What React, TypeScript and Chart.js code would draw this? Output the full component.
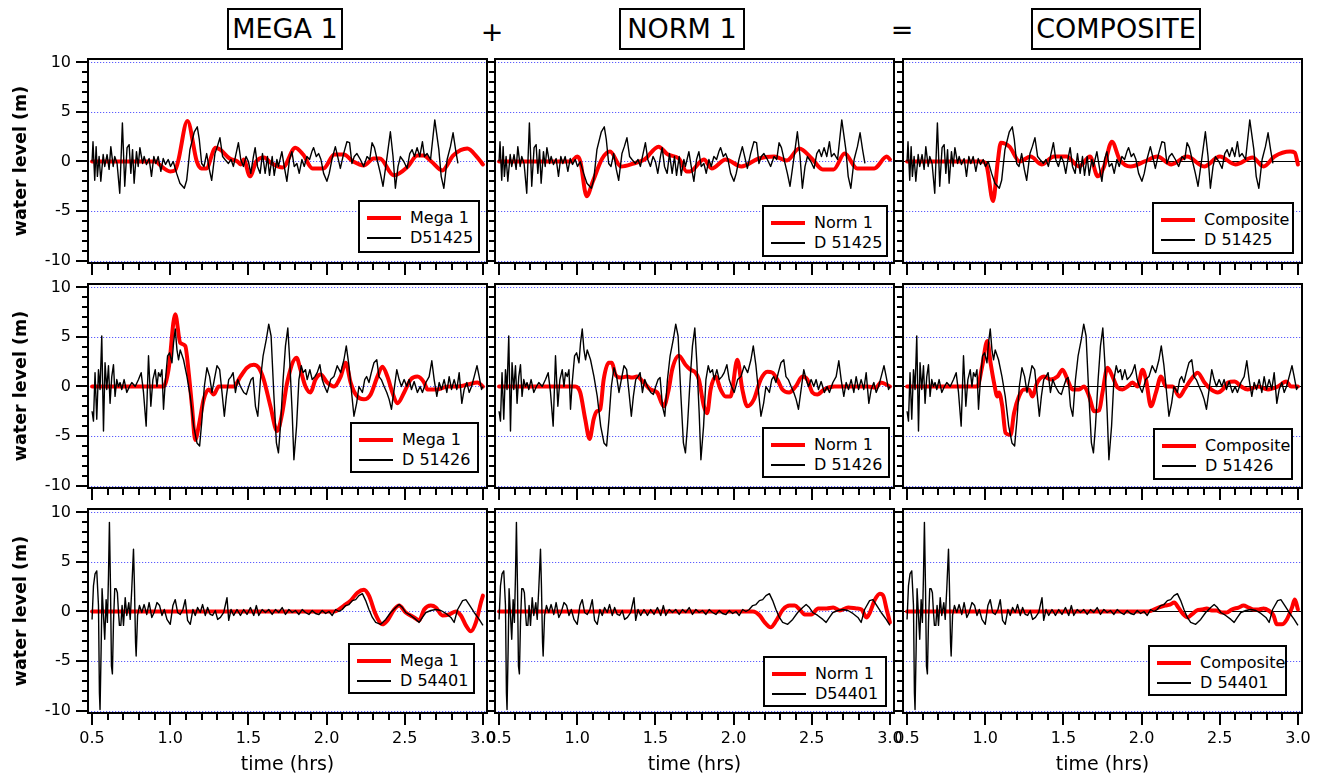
import React, { useEffect, useRef } from "react";
import { Chart, registerables } from "chart.js";

Chart.register(...registerables);
Chart.defaults.color = "#000";

// ---------------- DATA ----------------
const X_TICKS = [0.5, 1.0, 1.5, 2.0, 2.5, 3.0];
const Y_TICKS = [-10, -5, 0, 5, 10];
const COLUMN_TITLES = ["MEGA 1", "NORM 1", "COMPOSITE"];
const RED_LABELS = ["Mega 1", "Norm 1", "Composite"];
const BLACK_LABELS = [
  ["D51425", "D 51425", "D 51425"],
  ["D 51426", "D 51426", "D 51426"],
  ["D 54401", "D54401", "D 54401"],
];

// observed gauge records [time (hrs), water level (m)]
const D51425: number[][] = [
  [0.5,0],[0.506,2.0],[0.517,-1.9],[0.526,1.5],[0.534,-1.5],[0.545,0.5],[0.556,-2.0],[0.571,0.7],[0.581,-0.5],[0.596,0.7],
  [0.609,-0.8],[0.62,1.5],[0.635,-0.5],[0.645,0.5],[0.66,-0.2],[0.677,-3.2],[0.694,3.9],[0.709,-2.5],[0.724,1.4],[0.737,1.7],
  [0.748,-1.2],[0.759,1.2],[0.769,-2.2],[0.784,1.0],[0.795,-0.5],[0.806,1.4],[0.823,-0.2],[0.833,0.5],[0.848,-0.3],[0.865,0.3],
  [0.88,-1.5],[0.895,0.5],[0.908,-0.2],[0.923,0.5],[0.94,-1.0],[0.955,0.3],[0.97,-0.3],[0.987,0.2],[1.002,-0.5],[1.019,0],
  [1.041,-1.2],[1.062,-2.2],[1.09,-2.7],[1.105,-1.9],[1.126,1.2],[1.154,3.0],[1.173,3.5],[1.186,2.2],[1.201,-0.2],[1.216,-0.5],
  [1.233,0.8],[1.25,-0.8],[1.265,-1.9],[1.286,0.8],[1.301,1.5],[1.318,2.4],[1.335,0.5],[1.35,0.2],[1.372,-0.2],[1.389,0.2],
  [1.404,-0.5],[1.417,0.5],[1.436,1.9],[1.451,0.2],[1.468,-0.5],[1.485,0.5],[1.5,0],[1.515,-1.2],[1.532,0.5],[1.543,1.4],
  [1.558,-0.5],[1.575,-1.2],[1.59,0.8],[1.607,-1.2],[1.622,0.5],[1.635,-1.4],[1.652,0.5],[1.665,-1.4],[1.682,0.2],[1.692,-0.5],
  [1.714,1.0],[1.729,-0.5],[1.746,-2.0],[1.763,0.2],[1.778,1.0],[1.793,-0.5],[1.81,-0.2],[1.825,-1.2],[1.842,0.2],[1.857,-0.5],
  [1.874,0.5],[1.891,0.2],[1.906,1.0],[1.917,1.4],[1.934,0.5],[1.949,0.8],[1.964,0.2],[1.981,-1.2],[2.002,-2.0],[2.017,-1.2],
  [2.034,0.2],[2.056,1.5],[2.071,0.5],[2.088,-0.7],[2.109,0.8],[2.13,2.0],[2.147,1.9],[2.162,-0.2],[2.177,0.5],[2.194,0.8],
  [2.216,0.2],[2.237,-0.5],[2.259,0.5],[2.276,0.2],[2.291,1.9],[2.306,1.4],[2.323,0.2],[2.344,-1.2],[2.361,-2.5],[2.387,0.5],
  [2.408,3.0],[2.425,0.5],[2.44,-2.7],[2.457,-0.5],[2.472,0.5],[2.494,0],[2.515,-0.7],[2.532,0.8],[2.547,1.2],[2.562,0.5],
  [2.579,1.4],[2.596,0.5],[2.613,2.0],[2.626,0.5],[2.643,0.8],[2.665,0.2],[2.692,4.2],[2.718,1.2],[2.733,-1.5],[2.75,-2.7],
  [2.771,0.2],[2.792,1.5],[2.809,2.9],[2.825,1.2],[2.84,-0.2],
];

const D51426: number[][] = [
  [0.5,-2.5],[0.509,-3.5],[0.519,1.4],[0.53,-3.3],[0.541,1.7],[0.551,-0.3],[0.562,5.1],[0.573,-4.5],[0.583,2.4],[0.594,-0.3],
  [0.605,2.1],[0.615,-1.7],[0.626,1.0],[0.637,2.2],[0.647,-1.0],[0.658,0.7],[0.669,0],[0.679,0.4],[0.69,-0.3],[0.705,0.7],
  [0.722,-0.6],[0.739,0],[0.754,0.4],[0.776,0],[0.797,0.7],[0.814,1.4],[0.829,-0.6],[0.846,-4.0],[0.861,3.1],[0.876,-2.0],
  [0.889,0.7],[0.904,1.7],[0.915,0],[0.925,1.4],[0.936,1.0],[0.947,1.7],[0.957,-2.3],[0.968,0.4],[0.983,3.1],[0.996,3.4],
  [1.011,2.4],[1.021,4.4],[1.032,5.8],[1.043,3.7],[1.053,2.7],[1.064,3.7],[1.085,2.7],[1.107,1.0],[1.128,-1.0],[1.15,-4.0],
  [1.171,-5.7],[1.188,-6.0],[1.203,-3.3],[1.218,0],[1.235,1.9],[1.252,1.0],[1.267,-0.6],[1.282,0.7],[1.299,2.1],[1.316,1.7],
  [1.331,-0.6],[1.346,-3.0],[1.359,-1.0],[1.374,0.7],[1.389,1.0],[1.402,1.4],[1.417,-0.6],[1.432,0.7],[1.449,0],[1.47,-0.6],
  [1.487,-0.8],[1.502,0],[1.517,0.7],[1.53,0.9],[1.545,-2.0],[1.56,-3.0],[1.577,0.7],[1.594,3.1],[1.615,4.8],[1.63,6.3],
  [1.645,5.1],[1.662,-0.6],[1.679,-5.7],[1.692,-6.7],[1.705,-4.0],[1.722,0.7],[1.737,4.1],[1.752,5.9],[1.765,2.4],[1.78,-2.7],
  [1.791,-7.4],[1.808,-4.0],[1.823,0.7],[1.838,2.1],[1.85,1.4],[1.865,1.7],[1.876,0.7],[1.893,1.7],[1.908,0.7],[1.925,1.0],
  [1.94,1.4],[1.957,2.2],[1.972,0.7],[1.987,0],[2.004,-0.6],[2.026,0.7],[2.047,1.0],[2.068,2.1],[2.09,1.4],[2.111,2.7],
  [2.126,4.1],[2.143,2.1],[2.158,-0.3],[2.175,-3.0],[2.192,-1.7],[2.207,0],[2.229,-0.6],[2.244,0.7],[2.256,1.0],[2.271,0.4],
  [2.286,1.4],[2.303,2.4],[2.321,2.7],[2.335,1.0],[2.35,0.7],[2.368,0],[2.385,-0.6],[2.4,-1.3],[2.415,-2.3],[2.432,-0.3],
  [2.449,1.7],[2.464,0.7],[2.479,0],[2.496,0.7],[2.513,0],[2.528,0.7],[2.543,-0.3],[2.56,0.5],[2.581,-0.6],[2.598,0],
  [2.613,-0.6],[2.635,0.4],[2.656,1.0],[2.673,2.6],[2.688,0.7],[2.705,-1.0],[2.72,0.4],[2.735,-0.3],[2.752,0.7],[2.769,-0.6],
  [2.784,1.0],[2.799,-0.3],[2.816,0.7],[2.833,-0.3],[2.848,1.4],[2.865,-1.7],[2.88,-0.3],[2.897,0.4],[2.912,-0.6],[2.927,0],
  [2.944,1.0],[2.962,2.1],[2.976,1.0],[2.991,-0.3],[3.0,0],
];

const D54401: number[][] = [
  [0.5,-0.8],[0.509,2.6],[0.519,3.8],[0.53,4.1],[0.541,0.6],[0.547,-8.2],[0.551,-9.9],[0.558,-3.8],[0.564,2.3],[0.573,-0.4],
  [0.581,-2.8],[0.59,1.2],[0.598,-1.1],[0.605,3.6],[0.611,9.0],[0.618,2.3],[0.624,-5.5],[0.63,-6.3],[0.637,-1.1],[0.645,2.3],
  [0.654,2.3],[0.662,1.9],[0.669,-0.1],[0.675,-1.4],[0.684,-1.4],[0.692,0.6],[0.701,-1.4],[0.712,1.4],[0.722,-0.4],[0.735,0.9],
  [0.744,-0.8],[0.754,2.3],[0.765,6.3],[0.771,2.6],[0.778,-3.1],[0.782,-4.5],[0.791,-0.4],[0.803,0.6],[0.818,-0.1],[0.833,0.7],
  [0.85,-0.3],[0.865,0.9],[0.882,-0.6],[0.897,-0.1],[0.915,0.9],[0.932,0.6],[0.947,-0.4],[0.962,0.2],[0.979,-0.8],[1.0,-1.3],
  [1.017,0.6],[1.032,1.2],[1.047,-0.1],[1.064,-0.3],[1.081,0.2],[1.096,1.2],[1.111,-0.9],[1.128,-1.3],[1.145,0.2],[1.16,-0.4],
  [1.175,0.4],[1.192,-0.1],[1.207,0.7],[1.224,-0.4],[1.239,0.4],[1.256,-0.3],[1.271,-0.4],[1.288,0.1],[1.303,-0.8],[1.321,-0.6],
  [1.342,-0.1],[1.363,1.4],[1.374,-0.9],[1.389,0.2],[1.406,-0.4],[1.427,0.2],[1.449,-0.4],[1.47,0.2],[1.491,-0.3],[1.513,0.4],
  [1.534,-0.4],[1.551,0.6],[1.566,-0.4],[1.588,0.2],[1.609,-0.1],[1.63,0.2],[1.652,-0.3],[1.673,0.2],[1.694,-0.1],[1.716,0.4],
  [1.737,-0.3],[1.759,0.2],[1.78,-0.1],[1.801,0.1],[1.823,-0.3],[1.844,0.2],[1.865,-0.1],[1.887,-0.3],[1.908,0.1],[1.929,-0.2],
  [1.951,-0.3],[1.972,0.1],[1.994,-0.2],[2.015,0],[2.036,-0.4],[2.058,0.2],[2.079,0],[2.1,0.2],[2.122,0.6],[2.143,0.7],
  [2.165,1.1],[2.186,1.2],[2.207,1.6],[2.229,1.8],[2.25,1.1],[2.271,0.2],[2.293,-0.6],[2.314,-1.1],[2.346,-1.3],[2.378,-0.8],
  [2.41,-0.1],[2.442,0.4],[2.464,0.7],[2.485,0.4],[2.506,-0.1],[2.538,-0.4],[2.571,-0.8],[2.592,-1.1],[2.613,-0.6],[2.635,-0.1],
  [2.667,0.1],[2.699,0.2],[2.731,0.1],[2.763,-0.2],[2.795,-0.6],[2.816,-1.1],[2.838,0.2],[2.87,1.1],[2.891,1.2],[2.912,0.7],
  [2.944,-0.1],[2.976,-0.8],[3.0,-1.4],
];

// model results [time (hrs), water level (m)]
const MEGA1_51425: number[][] = [
  [0.5,0],[0.91,0],[0.93,-0.3],[1.0,-1.0],[1.03,-0.9],[1.05,0],[1.11,4.1],[1.17,0],[1.2,-0.7],[1.23,-0.7],
  [1.29,1.4],[1.32,1.2],[1.38,0.3],[1.43,0],[1.45,-0.3],[1.47,0.2],[1.51,-1.5],[1.55,0],[1.6,0.4],[1.64,-0.1],
  [1.72,-0.6],[1.8,1.4],[1.85,0.7],[1.91,-0.7],[1.98,-0.7],[2.05,0.7],[2.11,0.7],[2.17,0],[2.24,-0.4],[2.3,0.3],
  [2.34,0.3],[2.43,-1.4],[2.52,-0.5],[2.58,0.6],[2.62,0.6],[2.67,0],[2.74,-0.9],[2.81,0.6],[2.9,1.3],[2.96,0.5],[3.0,-0.3],
];
const NORM1_51425: number[][] = [
  [0.5,0],[0.96,0],[1.0,0.5],[1.02,0],[1.06,-3.5],[1.1,-2.0],[1.16,0.3],[1.21,1.0],[1.28,-0.5],[1.36,-0.2],
  [1.43,0.2],[1.52,1.5],[1.58,0.7],[1.65,0.3],[1.7,-1.0],[1.72,-1.0],[1.81,0.2],[1.86,-0.7],[1.95,0.2],[2.05,-0.5],
  [2.16,0.3],[2.26,0.5],[2.34,0.1],[2.42,1.3],[2.5,0.3],[2.57,-0.8],[2.64,-0.8],[2.71,0.8],[2.79,-0.7],[2.9,-0.7],
  [2.98,0.5],[3.0,0.2],
];
const COMP_51425: number[][] = [
  [0.5,0],[0.98,0],[1.01,-0.5],[1.05,-4.0],[1.08,0],[1.1,1.9],[1.155,1.5],[1.22,0],[1.29,0.5],[1.36,-0.3],
  [1.44,0.5],[1.52,0.5],[1.6,-0.5],[1.67,0.5],[1.72,-1.5],[1.76,-0.5],[1.81,2.0],[1.86,0.2],[1.93,-0.5],[2.02,0],
  [2.1,0.5],[2.19,-0.3],[2.29,0.5],[2.4,-0.5],[2.5,0.5],[2.6,-0.3],[2.71,0.4],[2.78,-0.5],[2.85,0.5],[2.95,1.0],
  [2.98,0.9],[3.0,-0.3],
];
const MEGA1_51426: number[][] = [
  [0.5,0],[0.957,0],[0.989,1.7],[1.032,7.3],[1.064,4.4],[1.096,4.1],[1.118,1.4],[1.139,-2.0],[1.16,-5.4],[1.182,-4.0],
  [1.214,-1.3],[1.246,-0.3],[1.278,-0.8],[1.31,0],[1.363,0],[1.406,0],[1.449,1.0],[1.491,1.9],[1.534,2.2],[1.566,1.9],
  [1.598,0.7],[1.641,-2.0],[1.684,-4.5],[1.716,-2.7],[1.748,0.4],[1.808,2.9],[1.833,1.7],[1.865,0],[1.897,-0.6],[1.929,0.7],
  [1.962,1.2],[2.004,0.4],[2.047,0],[2.09,1.0],[2.122,2.4],[2.154,0.4],[2.186,-0.8],[2.239,-1.3],[2.282,-0.8],[2.325,1.0],
  [2.357,2.0],[2.389,1.0],[2.421,-0.6],[2.453,-1.7],[2.496,-0.6],[2.538,0.7],[2.581,1.0],[2.624,0.4],[2.645,-0.3],[2.709,-0.3],
  [2.774,0],[2.838,0],[2.902,0.2],[2.966,0.4],[3.0,0],
];
const NORM1_51426: number[][] = [
  [0.5,0],[0.987,0],[1.019,-0.6],[1.051,-3.3],[1.079,-5.3],[1.105,-3.3],[1.126,-2.5],[1.147,-2.3],[1.169,0.7],[1.201,2.4],
  [1.222,2.4],[1.244,1.2],[1.276,0.9],[1.318,1.0],[1.35,0.9],[1.382,1.0],[1.425,0.4],[1.468,-0.3],[1.511,-0.6],[1.553,-2.0],
  [1.585,-0.3],[1.607,1.7],[1.65,3.1],[1.692,2.2],[1.724,1.7],[1.756,1.4],[1.778,0.7],[1.81,-2.0],[1.831,-2.7],[1.853,-0.3],
  [1.885,1.0],[1.917,-0.3],[1.949,-1.0],[1.981,-1.0],[2.024,2.7],[2.056,-0.3],[2.088,-2.0],[2.13,-1.3],[2.173,0.7],[2.216,1.5],
  [2.248,1.4],[2.28,0.7],[2.312,-0.3],[2.355,-0.6],[2.397,0],[2.44,1.0],[2.472,0.7],[2.504,-0.6],[2.536,-0.8],[2.579,-0.3],
  [2.643,0],[2.707,0],[2.793,0],[2.857,0],[2.91,-0.1],[2.942,0.4],[3.0,0],
];
const COMP_51426: number[][] = [
  [0.5,0],[0.949,0],[0.981,2.1],[1.013,4.6],[1.034,2.4],[1.056,0.4],[1.077,-1.0],[1.088,-0.6],[1.109,-2.0],[1.13,-4.7],
  [1.162,-4.9],[1.184,-2.7],[1.216,-1.0],[1.248,-0.3],[1.28,-0.3],[1.301,-1.0],[1.333,0.4],[1.376,1.0],[1.419,0.7],[1.462,1.0],
  [1.494,1.7],[1.526,0.7],[1.558,-0.3],[1.6,-0.3],[1.632,0],[1.665,-1.0],[1.697,-2.5],[1.729,-2.4],[1.75,-0.6],[1.782,1.9],
  [1.814,1.0],[1.846,-0.1],[1.878,-0.3],[1.91,0],[1.942,0.4],[1.974,0],[2.006,1.7],[2.028,0.7],[2.06,-2.0],[2.092,-0.6],
  [2.124,1.0],[2.156,0],[2.199,0],[2.241,-1.0],[2.274,-0.3],[2.316,0.7],[2.359,1.4],[2.402,0.4],[2.444,-0.3],[2.487,-0.6],
  [2.519,-0.3],[2.551,0.4],[2.594,0.5],[2.637,0],[2.679,-0.3],[2.744,0],[2.808,-0.3],[2.872,0],[2.925,0.5],[2.957,0],[3.0,0],
];
const MEGA1_54401: number[][] = [
  [0.5,0],[2.047,0],[2.111,0.6],[2.154,1.1],[2.197,1.9],[2.239,2.2],[2.271,1.6],[2.314,-0.3],[2.357,-1.3],[2.389,-0.9],
  [2.432,0.2],[2.464,0.6],[2.506,-0.1],[2.56,-0.6],[2.592,-0.9],[2.624,0.2],[2.667,0.6],[2.699,0.4],[2.741,-0.4],[2.784,-0.3],
  [2.827,0],[2.859,-0.4],[2.891,-1.4],[2.923,-2.0],[2.955,-1.1],[2.987,0.9],[3.0,1.6],
];
const NORM1_54401: number[][] = [
  [0.5,0],[2.124,0],[2.167,-0.4],[2.199,-1.1],[2.237,-1.6],[2.274,-0.9],[2.316,0.2],[2.359,0.6],[2.391,0.6],[2.423,0.2],
  [2.455,-0.3],[2.498,-0.3],[2.541,0.3],[2.594,0.3],[2.637,0.4],[2.679,0.1],[2.733,0.4],[2.786,0.3],[2.818,0.2],[2.85,-0.6],
  [2.872,-0.1],[2.904,1.2],[2.936,1.8],[2.957,1.6],[2.979,0.2],[3.0,-1.1],
];
const COMP_54401: number[][] = [
  [0.5,0],[2.043,0],[2.107,0.4],[2.15,0.6],[2.182,0.7],[2.209,0.9],[2.235,0.4],[2.267,-0.3],[2.295,-0.6],[2.321,-0.3],
  [2.353,0.1],[2.385,0.2],[2.417,0.3],[2.449,0.1],[2.481,0.1],[2.513,-0.1],[2.545,-0.1],[2.577,0.2],[2.62,0.4],[2.652,0.6],
  [2.684,0.4],[2.716,0.2],[2.748,0.2],[2.78,0.3],[2.812,0.1],[2.844,-0.4],[2.865,-1.3],[2.897,-1.3],[2.929,-0.8],[2.962,0.4],
  [2.98,1.2],[3.0,0.2],
];

const OBSERVED = [D51425, D51426, D54401];
const MODELLED = [
  [MEGA1_51425, NORM1_51425, COMP_51425],
  [MEGA1_51426, NORM1_51426, COMP_51426],
  [MEGA1_54401, NORM1_54401, COMP_54401],
];

// ---------------- LAYOUT / STYLE ----------------
const FONT = "'DejaVu Sans', 'Verdana', sans-serif";
const COL_LEFT = [88, 495, 903];
const ROW_TOP = [59, 284, 509];
const PW = 399;
const PH = 204;
const LEGEND_BOX = [
  [[358, 200, 122, 53], [762, 205, 126, 52], [1152, 202, 142, 52]],
  [[350, 422, 129, 51], [762, 427, 128, 51], [1153, 428, 140, 52]],
  [[348, 643, 127, 51], [763, 656, 124, 51], [1148, 645, 139, 51]],
];

const framePlugin = {
  id: "frame",
  beforeDatasetsDraw(chart: any, _a: any, opts: any) {
    const { ctx, chartArea: a, scales } = chart;
    const y = scales.y;
    ctx.save();
    ctx.beginPath();
    ctx.rect(a.left, a.top, a.right - a.left, a.bottom - a.top);
    ctx.clip();
    for (const v of Y_TICKS) {
      const py = Math.round(y.getPixelForValue(v)) + 0.5;
      if (opts.zeroLine && v === 0) {
        ctx.setLineDash([]);
        ctx.strokeStyle = "#000";
        ctx.lineWidth = 1.2;
      } else {
        ctx.setLineDash([1.2, 1.8]);
        ctx.strokeStyle = "#5c5cff";
        ctx.lineWidth = 1.2;
      }
      ctx.beginPath();
      ctx.moveTo(a.left, py);
      ctx.lineTo(a.right, py);
      ctx.stroke();
    }
    ctx.restore();
  },
  afterDraw(chart: any, _a: any, opts: any) {
    const { ctx, chartArea: a, scales } = chart;
    const x = scales.x;
    const y = scales.y;
    ctx.save();
    ctx.setLineDash([]);
    ctx.strokeStyle = "#000";
    ctx.lineWidth = 2;
    ctx.strokeRect(a.left, a.top, a.right - a.left, a.bottom - a.top);
    for (let i = 5; i <= 30; i++) {
      const px = Math.round(x.getPixelForValue(i / 10));
      const len = i % 5 === 0 ? 12 : 7;
      ctx.beginPath();
      ctx.moveTo(px, a.bottom);
      ctx.lineTo(px, a.bottom + len);
      ctx.stroke();
    }
    for (let v = -10; v <= 10; v++) {
      const py = Math.round(y.getPixelForValue(v));
      const len = v % 5 === 0 ? opts.yMajor : 6;
      ctx.beginPath();
      ctx.moveTo(a.left, py);
      ctx.lineTo(a.left - len, py);
      ctx.stroke();
    }
    ctx.restore();
  },
};

function Panel({ row, col }: { row: number; col: number }) {
  const ref = useRef<HTMLCanvasElement>(null);
  const L = col === 0 ? 88 : 16;
  const R = 20;
  const T = 12;
  const B = row === 2 ? 66 : 18;
  const w = L + PW + R;
  const h = T + PH + B;
  const left = COL_LEFT[col] - L;
  const top = ROW_TOP[row] - T;

  useEffect(() => {
    const toPts = (arr: number[][]) => arr.map(([t, v]) => ({ x: t, y: v }));
    const chart = new Chart(ref.current as HTMLCanvasElement, {
      type: "line",
      data: {
        datasets: [
          {
            label: BLACK_LABELS[row][col],
            data: toPts(OBSERVED[row]),
            borderColor: "#000",
            borderWidth: 1.4,
            pointRadius: 0,
            tension: 0,
            borderJoinStyle: "round",
          },
          {
            label: RED_LABELS[col],
            data: toPts(MODELLED[row][col]),
            borderColor: "#ff0000",
            borderWidth: 4,
            pointRadius: 0,
            cubicInterpolationMode: "monotone",
            borderJoinStyle: "round",
            borderCapStyle: "round",
          },
        ],
      } as any,
      options: {
        responsive: false,
        maintainAspectRatio: false,
        animation: false,
        devicePixelRatio: 1,
        events: [],
        layout: { padding: { left: 0, right: R, top: T, bottom: 0 } },
        plugins: {
          legend: { display: false },
          tooltip: { enabled: false },
          frame: { zeroLine: col === 2, yMajor: col === 0 ? 12 : 8 },
        } as any,
        scales: {
          x: {
            type: "linear",
            min: 0.474,
            max: 3.026,
            grid: { display: false, drawTicks: false },
            border: { display: false },
            afterBuildTicks: (s: any) => {
              s.ticks = X_TICKS.map((value) => ({ value }));
            },
            afterFit: (s: any) => {
              s.height = B;
              s.paddingLeft = 0;
              s.paddingRight = 0;
              s.paddingTop = 0;
              s.paddingBottom = 0;
            },
            ticks: {
              display: row === 2,
              autoSkip: false,
              maxRotation: 0,
              padding: 16,
              color: "#000",
              font: { family: FONT, size: 16 },
              callback: (v: any) => Number(v).toFixed(1),
            },
            title: {
              display: row === 2,
              text: "time (hrs)",
              color: "#000",
              font: { family: FONT, size: 19 },
              padding: { top: 0, bottom: 3 },
            },
          },
          y: {
            type: "linear",
            min: -10.25,
            max: 10.35,
            grid: { display: false, drawTicks: false },
            border: { display: false },
            afterBuildTicks: (s: any) => {
              s.ticks = Y_TICKS.map((value) => ({ value }));
            },
            afterFit: (s: any) => {
              s.width = L;
              s.paddingLeft = 0;
              s.paddingRight = 0;
              s.paddingTop = 0;
              s.paddingBottom = 0;
            },
            ticks: {
              display: col === 0,
              padding: 17,
              color: "#000",
              font: { family: FONT, size: 16 },
            },
            title: {
              display: col === 0,
              text: "water level (m)",
              color: "#000",
              font: { family: FONT, size: 17.5, weight: "bold" },
              padding: { top: 11, bottom: 0 },
            },
          },
        } as any,
      },
      plugins: [framePlugin as any],
    });
    return () => chart.destroy();
  }, [row, col]);

  return (
    <canvas
      ref={ref}
      width={w}
      height={h}
      style={{ position: "absolute", left, top, width: w, height: h }}
    />
  );
}

function Legend({ row, col }: { row: number; col: number }) {
  const [l, t, w, h] = LEGEND_BOX[row][col];
  const item = (color: string, thick: number, label: string, cy: number) => (
    <>
      <div
        style={{
          position: "absolute",
          left: 7,
          top: cy - thick / 2,
          width: 34,
          height: thick,
          background: color,
        }}
      />
      <div
        style={{
          position: "absolute",
          left: 50,
          top: cy - 10,
          height: 20,
          lineHeight: "20px",
          whiteSpace: "nowrap",
        }}
      >
        {label}
      </div>
    </>
  );
  return (
    <div
      style={{
        position: "absolute",
        left: l,
        top: t,
        width: w,
        height: h,
        border: "2px solid #000",
        boxSizing: "border-box",
        background: "#fff",
        font: `16px ${FONT}`,
        color: "#000",
      }}
    >
      {item("#ff0000", 4, RED_LABELS[col], 16)}
      {item("#000", 1.5, BLACK_LABELS[row][col], 36)}
    </div>
  );
}

const HEADER_BOX = [
  [227, 116],
  [619, 126],
  [1031, 170],
];

export default function App() {
  const cells: { row: number; col: number }[] = [];
  for (let r = 0; r < 3; r++) for (let c = 0; c < 3; c++) cells.push({ row: r, col: c });
  return (
    <div
      style={{
        position: "absolute",
        left: 0,
        top: 0,
        width: 1322,
        height: 780,
        background: "#fff",
        overflow: "hidden",
        fontFamily: FONT,
      }}
    >
      {COLUMN_TITLES.map((t, i) => (
        <div
          key={t}
          style={{
            position: "absolute",
            left: HEADER_BOX[i][0],
            top: 8,
            width: HEADER_BOX[i][1],
            height: 42,
            border: "2px solid #000",
            boxSizing: "border-box",
            textAlign: "center",
            lineHeight: "38px",
            fontSize: 27,
            color: "#000",
          }}
        >
          {t}
        </div>
      ))}
      <div style={{ position: "absolute", left: 480, top: 16, width: 24, textAlign: "center", fontSize: 27 }}>+</div>
      <div style={{ position: "absolute", left: 890, top: 14, width: 24, textAlign: "center", fontSize: 27 }}>=</div>
      {cells.map((c) => (
        <Panel key={`p${c.row}${c.col}`} row={c.row} col={c.col} />
      ))}
      {cells.map((c) => (
        <Legend key={`l${c.row}${c.col}`} row={c.row} col={c.col} />
      ))}
    </div>
  );
}
